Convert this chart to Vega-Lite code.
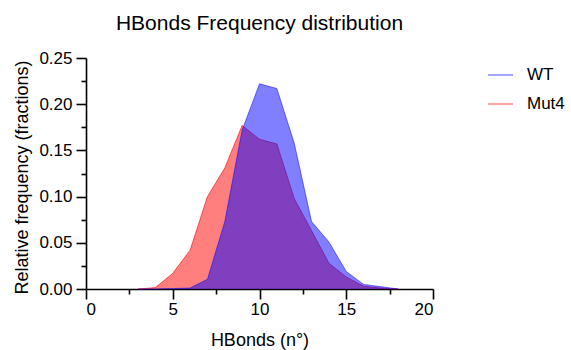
{
  "$schema": "https://vega.github.io/schema/vega-lite/v6.json",
  "width": 347,
  "height": 231,
  "autosize": "none",
  "padding": {"left": 86, "top": 58, "right": 138, "bottom": 61},
  "background": "white",
  "title": {"text": "HBonds Frequency distribution", "fontSize": 21, "font": "Liberation Sans", "fontWeight": "normal", "color": "#000000", "offset": -2, "baseline": "alphabetic"},
  "config": {
    "view": {"stroke": null},
    "font": "Liberation Sans",
    "axis": {"domainColor": "#000000", "domainWidth": 1.6, "tickColor": "#000000", "tickWidth": 1.6, "labelColor": "#000000", "titleColor": "#000000", "labelFont": "Liberation Sans", "titleFont": "Liberation Sans", "labelFontSize": 17, "titleFontSize": 18, "titleFontWeight": "normal", "grid": false}
  },
  "datasets": {
    "freq": [
      {"hbonds": 3, "series": "WT", "freq": 0.0},
      {"hbonds": 4, "series": "WT", "freq": 0.0},
      {"hbonds": 5, "series": "WT", "freq": 0.0005},
      {"hbonds": 6, "series": "WT", "freq": 0.001},
      {"hbonds": 7, "series": "WT", "freq": 0.0105},
      {"hbonds": 8, "series": "WT", "freq": 0.073},
      {"hbonds": 9, "series": "WT", "freq": 0.172},
      {"hbonds": 10, "series": "WT", "freq": 0.222},
      {"hbonds": 11, "series": "WT", "freq": 0.217},
      {"hbonds": 12, "series": "WT", "freq": 0.158},
      {"hbonds": 13, "series": "WT", "freq": 0.073},
      {"hbonds": 14, "series": "WT", "freq": 0.051},
      {"hbonds": 15, "series": "WT", "freq": 0.019},
      {"hbonds": 16, "series": "WT", "freq": 0.005},
      {"hbonds": 17, "series": "WT", "freq": 0.0025},
      {"hbonds": 18, "series": "WT", "freq": 0.0},
      {"hbonds": 3, "series": "Mut4", "freq": 0.0},
      {"hbonds": 4, "series": "Mut4", "freq": 0.0015},
      {"hbonds": 5, "series": "Mut4", "freq": 0.017},
      {"hbonds": 6, "series": "Mut4", "freq": 0.042},
      {"hbonds": 7, "series": "Mut4", "freq": 0.1},
      {"hbonds": 8, "series": "Mut4", "freq": 0.131},
      {"hbonds": 9, "series": "Mut4", "freq": 0.177},
      {"hbonds": 10, "series": "Mut4", "freq": 0.162},
      {"hbonds": 11, "series": "Mut4", "freq": 0.157},
      {"hbonds": 12, "series": "Mut4", "freq": 0.098},
      {"hbonds": 13, "series": "Mut4", "freq": 0.063},
      {"hbonds": 14, "series": "Mut4", "freq": 0.028},
      {"hbonds": 15, "series": "Mut4", "freq": 0.013},
      {"hbonds": 16, "series": "Mut4", "freq": 0.003},
      {"hbonds": 17, "series": "Mut4", "freq": 0.001},
      {"hbonds": 18, "series": "Mut4", "freq": 0.0}
    ]
  },
  "data": {"name": "freq"},
  "encoding": {
    "x": {"field": "hbonds", "type": "quantitative",
      "scale": {"domain": [0, 20], "nice": false, "zero": false},
      "axis": {"title": "HBonds (n°)", "values": [0, 2.5, 5, 7.5, 10, 12.5, 15, 17.5, 20],
        "labelExpr": "datum.value % 5 === 0 ? datum.label : ''",
        "tickSize": {"expr": "datum.value % 5 === 0 ? 10 : 5"},
        "labelPadding": 2, "titleX": 173.5, "titleY": 56, "titleBaseline": "alphabetic"}},
    "y": {"field": "freq", "type": "quantitative",
      "scale": {"domain": [0, 0.25], "nice": false},
      "axis": {"title": "Relative frequency (fractions)", "values": [0, 0.025, 0.05, 0.075, 0.1, 0.125, 0.15, 0.175, 0.2, 0.225, 0.25],
        "format": ".2f",
        "labelExpr": "abs(datum.value * 20 - round(datum.value * 20)) < 0.001 ? datum.label : ''",
        "tickSize": {"expr": "abs(datum.value * 20 - round(datum.value * 20)) < 0.001 ? 10 : 5"},
        "labelPadding": 4, "titleX": -59, "titleY": 119, "titleBaseline": "alphabetic", "titleAngle": -90, "titleAlign": "center"}},
    "color": {"field": "series", "type": "nominal",
      "scale": {"domain": ["WT", "Mut4"], "range": ["#0000ff", "#ff0000"]},
      "legend": {"title": null, "orient": "none", "legendX": 401, "legendY": 3.5, "symbolType": "stroke", "symbolSize": 625, "symbolStrokeWidth": 2, "symbolOpacity": 0.35, "labelFontSize": 17, "labelFont": "Liberation Sans", "labelColor": "#000000", "labelOffset": 13, "rowPadding": 7, "padding": 0}}
  },
  "layer": [
    {"transform": [{"filter": "datum.series === 'Mut4'"}],
     "mark": {"type": "area", "fillOpacity": 0.5, "line": {"strokeWidth": 1, "opacity": 0.6}}},
    {"transform": [{"filter": "datum.series === 'WT'"}],
     "mark": {"type": "area", "fillOpacity": 0.5, "line": {"strokeWidth": 1, "opacity": 0.5}}}
  ]
}
